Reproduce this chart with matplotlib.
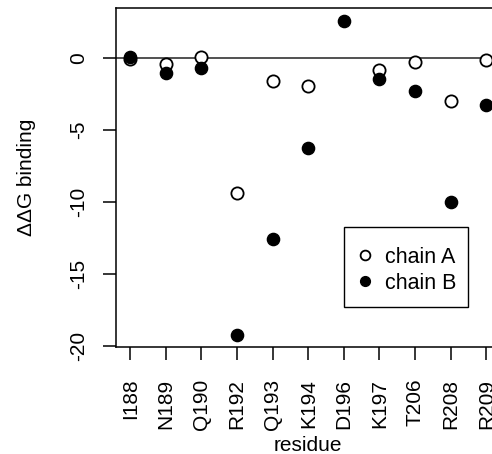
import numpy as np
import matplotlib
matplotlib.use('Agg')
import matplotlib.pyplot as plt
from matplotlib.patches import Rectangle

plt.rcParams['font.family'] = ['Liberation Sans', 'DejaVu Sans']
plt.rcParams['font.size'] = 15

residuos = ['I188', 'N189', 'Q190', 'R192', 'Q193', 'K194', 'D196', 'K197', 'T206', 'R208', 'R209']
cadena_a = [-0.1, -0.46, 0.03, -9.39, -1.59, -1.96, np.nan, -0.87, -0.32, -3.02, -0.16]
cadena_b = [0.05, -1.04, -0.73, -19.24, -12.6, -6.23, 2.54, -1.47, -2.33, -10.0, -3.27]

x = np.arange(1, len(residuos) + 1)

fig = plt.figure(figsize=(4.92, 4.54), dpi=100)
ax = fig.add_axes([0.2358, 0.2357, 0.7815, 0.7467])

ax.axhline(0, color='#333333', lw=1.2, zorder=1)
ax.plot(x, cadena_a, 'o', mfc='white', mec='black', mew=1.3, ms=8.8, ls='none', label='chain A', zorder=3)
ax.plot(x, cadena_b, 'o', mfc='black', mec='black', mew=1.0, ms=8.8, ls='none', label='chain B', zorder=3)

ax.set_xlim(0.6, 11.4)
ax.set_ylim(-20.05, 3.44)
ax.set_xticks(x)
ax.set_xticklabels(residuos, rotation=90)
ax.set_yticks([0, -5, -10, -15, -20])
ax.set_yticklabels(['0', '-5', '-10', '-15', '-20'], rotation=90, va='center')
ax.tick_params(direction='out', length=9.4, width=1.1)
ax.tick_params(axis='y', pad=10.5)
ax.tick_params(axis='x', pad=13.5)
for s in ax.spines.values():
    s.set_linewidth(1.1)

ax.set_xlabel('residue')
ax.xaxis.set_label_coords(0.5, -0.262)
ax.set_ylabel('ΔΔG binding')
ax.yaxis.set_label_coords(-0.209, 0.5)

# caja de la leyenda estilo R
ax.add_patch(Rectangle((0.594, 0.117), 0.321, 0.236, transform=ax.transAxes,
                       fill=True, facecolor='white', edgecolor='black', lw=1.0, zorder=4))
leg = ax.legend(loc='upper left', bbox_to_anchor=(0.594, 0.330), borderaxespad=0,
                frameon=False, fontsize=15.5,
                handletextpad=0.55, handlelength=0.8, borderpad=0.55,
                labelspacing=0.22, markerscale=0.8)
leg.set_zorder(5)

fig.savefig('out.png', dpi=100)
